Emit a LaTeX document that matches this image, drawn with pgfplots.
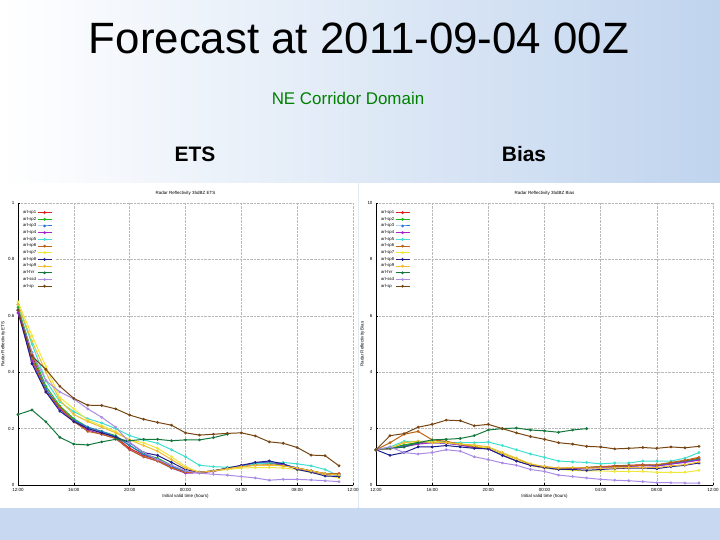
\documentclass[border=0pt]{standalone}
\usepackage{fontspec}
\setmainfont{Liberation Sans}
\usepackage{pgfplots}
\usepackage{pgfplotstable}
\pgfplotsset{compat=1.18}

\definecolor{c1}{RGB}{220,30,30}
\definecolor{c2}{RGB}{30,180,30}
\definecolor{c3}{RGB}{40,120,220}
\definecolor{c4}{RGB}{160,40,200}
\definecolor{c5}{RGB}{64,224,208}
\definecolor{c6}{RGB}{190,100,20}
\definecolor{c7}{RGB}{240,230,60}
\definecolor{c8}{RGB}{30,30,140}
\definecolor{c9}{RGB}{240,190,50}
\definecolor{c10}{RGB}{20,120,60}
\definecolor{c11}{RGB}{170,140,230}
\definecolor{c12}{RGB}{120,70,20}
\definecolor{bgblue}{RGB}{192,212,238}
\definecolor{band}{RGB}{200,216,240}
\definecolor{titlegreen}{RGB}{0,128,0}

\pgfplotscreateplotcyclelist{gp}{
{c1,mark=*},{c2,mark=*},{c3,mark=*},{c4,mark=*},{c5,mark=*},{c6,mark=*},
{c7,mark=*},{c8,mark=*},{c9,mark=*},{c10,mark=*},{c11,mark=*},{c12,mark=*}}

\pgfplotstableread{
i  s1    s2    s3    s4    s5    s6    s7    s8    s9    s10   s11   s12
0  0.62  0.63  0.62  0.61  0.64  0.62  0.65  0.62  0.64  0.25  0.62  0.62
1  0.46  0.47  0.45  0.44  0.50  0.45  0.53  0.43  0.51  0.266 0.47  0.457
2  0.34  0.35  0.34  0.33  0.37  0.33  0.42  0.33  0.40  0.224 0.37  0.41
3  0.275 0.28  0.27  0.27  0.295 0.275 0.31  0.262 0.30  0.169 0.33  0.35
4  0.23  0.235 0.23  0.225 0.26  0.225 0.27  0.225 0.25  0.145 0.305 0.307
5  0.20  0.205 0.205 0.195 0.235 0.19  0.23  0.20  0.225 0.142 0.27  0.283
6  0.185 0.19  0.19  0.18  0.22  0.18  0.21  0.185 0.205 0.153 0.24  0.282
7  0.17  0.175 0.172 0.165 0.20  0.165 0.19  0.17  0.185 0.162 0.205 0.27
8  0.13  0.14  0.14  0.125 0.175 0.125 0.16  0.15  0.16  0.157 0.15  0.248
9  0.105 0.11  0.108 0.10  0.16  0.10  0.15  0.115 0.14  0.162 0.115 0.233
10 0.09  0.095 0.092 0.085 0.148 0.085 0.13  0.105 0.12  0.162 0.09  0.222
11 0.065 0.07  0.066 0.06  0.125 0.06  0.10  0.08  0.09  0.157 0.07  0.212
12 0.045 0.048 0.046 0.042 0.10  0.045 0.065 0.055 0.06  0.16  0.05  0.185
13 0.045 0.045 0.044 0.043 0.07  0.045 0.045 0.045 0.045 0.16  0.042 0.177
14 0.05  0.05  0.05  0.048 0.065 0.05  0.05  0.05  0.05  0.168 0.038 0.18
15 0.058 0.06  0.058 0.058 0.063 0.058 0.055 0.06  0.058 0.18  0.035 0.183
16 0.068 0.068 0.068 0.068 0.065 0.065 0.06  0.07  0.065 nan   0.03  0.185
17 0.078 0.075 0.078 0.075 0.075 0.07  0.062 0.08  0.07  nan   0.025 0.174
18 0.08  0.078 0.082 0.08  0.078 0.072 0.062 0.085 0.07  nan   0.017 0.153
19 0.072 0.07  0.074 0.072 0.08  0.068 0.06  0.075 0.068 nan   0.02  0.148
20 0.06  0.06  0.06  0.058 0.075 0.06  0.055 0.055 0.06  nan   0.02  0.133
21 0.05  0.05  0.048 0.048 0.068 0.05  0.045 0.045 0.05  nan   0.018 0.106
22 0.04  0.04  0.038 0.038 0.055 0.04  0.035 0.032 0.04  nan   0.015 0.104
23 0.04  0.035 0.035 0.038 0.032 0.04  0.025 0.03  0.035 nan   0.012 0.068
}\ets

\pgfplotstableread{
i  s1   s2   s3   s4   s5   s6   s7   s8   s9   s10  s11  s12
0  1.25 1.25 1.25 1.25 1.25 1.25 1.25 1.25 1.25 1.25 1.25 1.25
1  1.3  1.32 1.3  1.28 1.35 1.5  1.3  1.05 1.3  1.3  1.35 1.75
2  1.4  1.42 1.38 1.35 1.55 1.8  1.5  1.15 1.5  1.35 1.15 1.82
3  1.5  1.52 1.48 1.45 1.55 1.9  1.55 1.35 1.55 1.5  1.1  2.05
4  1.55 1.55 1.5  1.5  1.55 1.6  1.55 1.35 1.5  1.6  1.15 2.15
5  1.5  1.52 1.48 1.48 1.5  1.55 1.5  1.4  1.5  1.62 1.25 2.3
6  1.45 1.45 1.42 1.42 1.5  1.45 1.45 1.35 1.45 1.65 1.2  2.28
7  1.35 1.38 1.35 1.32 1.5  1.35 1.4  1.3  1.42 1.75 1.0  2.1
8  1.3  1.3  1.28 1.28 1.52 1.3  1.3  1.28 1.35 1.95 0.9  2.15
9  1.1  1.1  1.08 1.06 1.4  1.1  1.1  1.05 1.15 2.0  0.78 2.0
10 0.9  0.9  0.88 0.86 1.25 0.9  0.9  0.85 0.95 2.02 0.7  1.85
11 0.72 0.73 0.72 0.7  1.1  0.72 0.7  0.7  0.75 1.95 0.55 1.72
12 0.62 0.63 0.62 0.6  0.98 0.65 0.6  0.62 0.65 1.92 0.48 1.62
13 0.58 0.58 0.57 0.56 0.85 0.6  0.55 0.55 0.6  1.87 0.35 1.5
14 0.6  0.6  0.58 0.57 0.82 0.6  0.52 0.55 0.62 1.95 0.3  1.45
15 0.62 0.62 0.6  0.6  0.8  0.62 0.5  0.52 0.6  2.0  0.25 1.37
16 0.65 0.64 0.62 0.62 0.75 0.65 0.5  0.55 0.6  nan  0.2  1.35
17 0.68 0.66 0.65 0.64 0.78 0.65 0.48 0.58 0.6  nan  0.17 1.28
18 0.7  0.68 0.67 0.66 0.78 0.68 0.48 0.6  0.62 nan  0.15 1.3
19 0.72 0.7  0.7  0.68 0.85 0.7  0.48 0.6  0.62 nan  0.12 1.33
20 0.7  0.7  0.68 0.67 0.85 0.72 0.45 0.58 0.62 nan  0.08 1.3
21 0.78 0.76 0.75 0.74 0.85 0.8  0.45 0.65 0.68 nan  0.08 1.35
22 0.85 0.83 0.82 0.8  0.95 0.88 0.45 0.7  0.72 nan  0.07 1.32
23 0.95 0.92 0.9  0.88 1.15 0.98 0.52 0.78 0.82 nan  0.07 1.37
}\bias

\pgfplotsset{
  gpaxis/.style={
    scale only axis,
    width=335bp, height=282bp,
    xmin=0, xmax=24,
    xtick={0,4,8,12,16,20,24},
    xticklabels={12:00,16:00,20:00,00:00,04:00,08:00,12:00},
    axis x line*=bottom, axis y line*=left,
    axis line style={black, line width=0.6pt},
    tick style={black, line width=0.4pt},
    major tick length=2bp,
    grid=major,
    grid style={gray!55, densely dotted, line width=0.4pt},
    tick label style={font=\fontsize{4.5}{5}\selectfont},
    label style={font=\fontsize{4.5}{5}\selectfont},
    title style={font=\fontsize{4.5}{5}\selectfont, yshift=-2bp},
    xlabel style={yshift=4bp},
    ylabel style={yshift=-4bp},
    cycle list name=gp,
    every axis plot/.append style={line width=1pt, mark size=0.85pt, mark options={solid}},
    legend cell align=left,
    legend plot pos=right,
    legend style={at={(0.003,0.985)}, anchor=north west, draw=none, fill=white,
      font=\fontsize{4.3}{4.5}\selectfont, row sep=0.3pt,
      nodes={inner sep=0.9pt}},
    legend image code/.code={\draw[mark repeat=2,mark phase=2] plot coordinates {(0bp,0bp) (7bp,0bp) (14bp,0bp)};},
    legend entries={arl-sp1,arl-sp2,arl-sp3,arl-sp4,arl-sp5,arl-sp6,arl-sp7,arl-sp8,arl-sp9,arl-hrr,arl-ssd,arl-sp},
    unbounded coords=discard,
  }
}

\begin{document}
\begin{tikzpicture}[x=1bp,y=1bp]
  % background
  \shade[left color=white, right color=bgblue] (0,0) rectangle (720,540);
  \fill[band] (0,0) rectangle (720,33);
  \fill[white] (0,32) rectangle (357.5,357);
  \fill[white] (358.5,32) rectangle (720,357);
  % slide texts
  \node[font=\fontsize{44}{48}\selectfont] at (359,502) {Forecast at 2011-09-04 00Z};
  \node[font=\fontsize{17}{19}\selectfont, text=titlegreen] at (348,442) {NE Corridor Domain};
  \node[font=\bfseries\fontsize{21}{24}\selectfont] at (195,386) {ETS};
  \node[font=\bfseries\fontsize{21}{24}\selectfont] at (524,386) {Bias};

  \begin{axis}[gpaxis, at={(18bp,55bp)}, anchor=south west,
      ymin=0, ymax=1, ytick={0,0.2,0.4,0.6,0.8,1},
      yticklabels={0,0.2,0.4,0.6,0.8,1},
      title={Radar Reflectivity 35dBZ ETS},
      xlabel={Initial valid time (hours)},
      ylabel={Radar Reflectivity ETS}]
    \addplot table[x=i,y=s1]{\ets};
    \addplot table[x=i,y=s2]{\ets};
    \addplot table[x=i,y=s3]{\ets};
    \addplot table[x=i,y=s4]{\ets};
    \addplot table[x=i,y=s5]{\ets};
    \addplot table[x=i,y=s6]{\ets};
    \addplot table[x=i,y=s7]{\ets};
    \addplot table[x=i,y=s8]{\ets};
    \addplot table[x=i,y=s9]{\ets};
    \addplot table[x=i,y=s10]{\ets};
    \addplot table[x=i,y=s11]{\ets};
    \addplot table[x=i,y=s12]{\ets};
  \end{axis}

  \begin{axis}[gpaxis, at={(376bp,55bp)}, anchor=south west, width=337bp,
      ymin=0, ymax=10, ytick={0,2,4,6,8,10},
      yticklabels={0,2,4,6,8,10},
      title={Radar Reflectivity 35dBZ Bias},
      xlabel={Initial valid time (hours)},
      ylabel={Radar Reflectivity Bias}]
    \addplot table[x=i,y=s1]{\bias};
    \addplot table[x=i,y=s2]{\bias};
    \addplot table[x=i,y=s3]{\bias};
    \addplot table[x=i,y=s4]{\bias};
    \addplot table[x=i,y=s5]{\bias};
    \addplot table[x=i,y=s6]{\bias};
    \addplot table[x=i,y=s7]{\bias};
    \addplot table[x=i,y=s8]{\bias};
    \addplot table[x=i,y=s9]{\bias};
    \addplot table[x=i,y=s10]{\bias};
    \addplot table[x=i,y=s11]{\bias};
    \addplot table[x=i,y=s12]{\bias};
  \end{axis}

  \pgfresetboundingbox
  \useasboundingbox (0,0) rectangle (720,540);
\end{tikzpicture}
\end{document}
